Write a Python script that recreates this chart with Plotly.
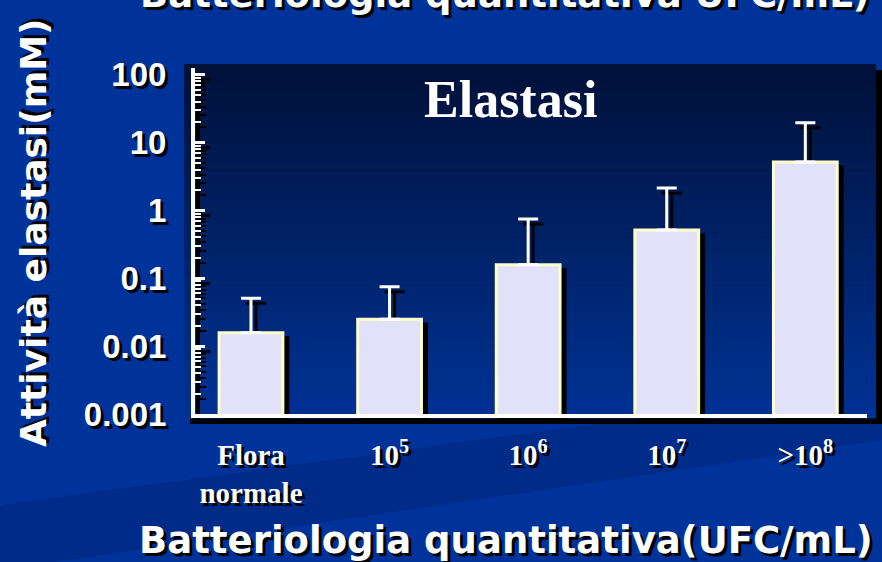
import plotly.graph_objects as go

# Attività elastasi per classe di batteriologia quantitativa
categorie = ["Flora<br>normale", "10<sup>5</sup>", "10<sup>6</sup>", "10<sup>7</sup>", ">10<sup>8</sup>"]
elastasi = [0.0157, 0.025, 0.158, 0.516, 5.2]
err_sup = [0.035, 0.050, 0.59, 1.63, 14.4]
y_tickvals = [0.001, 0.01, 0.1, 1, 10, 100]
y_ticktext = ["0.001", "0.01", "0.1", "1", "10", "100"]

W, H = 882, 562
BG = "#003399"


def px(x):
    return x / W


def py(y):
    return 1 - y / H


fig = go.Figure()

# shadow copy of the chart, shifted a few px right/down
fig.add_trace(go.Bar(
    x=categorie, y=elastasi, xaxis="x", yaxis="y", width=0.46,
    marker=dict(color="black", line=dict(color="black", width=3)),
    error_y=dict(type="data", array=err_sup, arrayminus=[0] * len(elastasi),
                 symmetric=False, color="black", thickness=3, width=10),
    hoverinfo="skip", showlegend=False,
))

# front bars
fig.add_trace(go.Bar(
    x=categorie, y=elastasi, xaxis="x2", yaxis="y2", width=0.46,
    marker=dict(color="#E1E1FA", line=dict(color="#FFFFC8", width=3)),
    error_y=dict(type="data", array=err_sup, arrayminus=[0] * len(elastasi),
                 symmetric=False, color="white", thickness=3, width=10),
    showlegend=False,
))

xrange_ = [-0.404, 4.445]
yrange_ = [-3, 2.1]

shapes = []
# darker diagonal band in the background
shapes.append(dict(type="path", xref="paper", yref="paper", layer="below",
                   path="M 0,%f L 1,%f L 1,%f L 0,%f Z" % (py(505), py(385), py(440), py(570)),
                   fillcolor="rgba(0,30,110,0.35)", line=dict(width=0)))
# panel shadow
shapes.append(dict(type="rect", xref="paper", yref="paper", layer="below",
                   x0=px(190), x1=px(882), y0=py(424), y1=py(70),
                   fillcolor="black", line=dict(width=0)))
# panel vertical gradient
n = 40
top_c = (0, 17, 58)
bot_c = (0, 50, 148)
y0p, y1p = 64, 418
for i in range(n):
    t = i / (n - 1)
    c = tuple(int(round(top_c[k] + (bot_c[k] - top_c[k]) * t)) for k in range(3))
    ya = y0p + (y1p - y0p) * i / n
    yb = y0p + (y1p - y0p) * (i + 1) / n + 0.6
    shapes.append(dict(type="rect", xref="paper", yref="paper", layer="below",
                       x0=px(184), x1=px(876), y0=py(yb), y1=py(ya),
                       fillcolor="rgb(%d,%d,%d)" % c, line=dict(width=0)))

tick_font = dict(family="Liberation Sans", size=33, color="white", weight="bold",
                 shadow="3px 3px 0px black")
xtick_font = dict(family="Liberation Serif", size=29, color="white", weight="bold",
                  shadow="3px 3px 0px black")
title_font = dict(family="DejaVu Sans", size=37, color="white", weight="bold",
                  shadow="3px 3px 0px black")

fig.update_layout(
    width=W, height=H,
    margin=dict(l=0, r=0, t=0, b=0, autoexpand=False),
    paper_bgcolor=BG, plot_bgcolor="rgba(0,0,0,0)",
    bargap=0.5,
    shapes=shapes,
    xaxis=dict(domain=[px(200), px(872)], range=xrange_, showgrid=False,
               showline=True, linecolor="black", linewidth=5,
               showticklabels=False, ticks="", zeroline=False),
    yaxis=dict(domain=[py(419), py(73)], type="log", range=yrange_, showgrid=False,
               showline=True, linecolor="black", linewidth=4,
               tickmode="array", tickvals=y_tickvals, showticklabels=False,
               ticks="inside", ticklen=10, tickwidth=3, tickcolor="black",
               minor=dict(dtick="D1", ticks="inside", ticklen=6, tickwidth=2,
                          tickcolor="black", showgrid=False),
               zeroline=False),
    xaxis2=dict(domain=[px(195), px(867)], range=xrange_, anchor="y2", showgrid=False,
                showline=True, linecolor="white", linewidth=4,
                ticks="", tickfont=xtick_font, ticklabelstandoff=12, zeroline=False),
    yaxis2=dict(domain=[py(414), py(68)], anchor="x2", type="log", range=yrange_,
                showgrid=False, showline=True, linecolor="white", linewidth=4,
                tickmode="array", tickvals=y_tickvals, ticktext=y_ticktext,
                tickfont=tick_font, ticklabelstandoff=18,
                ticks="inside", ticklen=10, tickwidth=3, tickcolor="white",
                minor=dict(dtick="D1", ticks="inside", ticklen=6, tickwidth=2,
                           tickcolor="white", showgrid=False),
                zeroline=False),
    annotations=[
        dict(text="Elastasi", xref="paper", yref="paper", x=px(510), y=py(99),
             xanchor="center", yanchor="middle", showarrow=False,
             font=dict(family="Liberation Serif", size=52, color="white", weight="bold")),
        dict(text="Batteriologia quantitativa(UFC/mL)", xref="paper", yref="paper",
             x=px(506), y=py(540), xanchor="center", yanchor="middle",
             showarrow=False, font=title_font),
        dict(text="Batteriologia quantitativa UFC/mL)", xref="paper", yref="paper",
             x=px(505), y=py(-5), xanchor="center", yanchor="middle",
             showarrow=False, font=title_font),
        dict(text="Attività elastasi(mM)", xref="paper", yref="paper",
             x=px(33), y=py(233), xanchor="center", yanchor="middle", textangle=-90,
             showarrow=False, font=dict(family="DejaVu Sans", size=36, color="white",
                                        weight="bold", shadow="3px 3px 0px black")),
    ],
)

fig.write_html("out.html", config={"displayModeBar": False},
               post_script="document.body.style.margin='0';")
